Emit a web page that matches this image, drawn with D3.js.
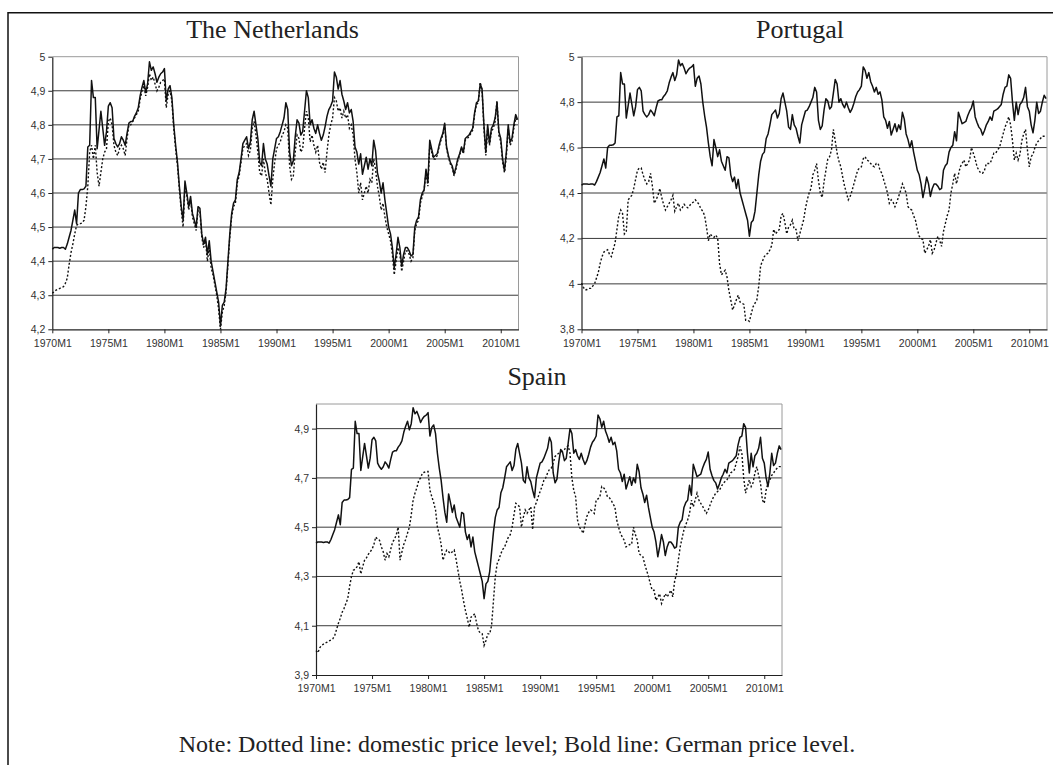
<!DOCTYPE html>
<html>
<head>
<meta charset="utf-8">
<script src="https://cdn.jsdelivr.net/npm/d3@7"></script>
<style>
  body { margin: 0; background: #fff; }
  svg { display: block; }
</style>
</head>
<body>
<svg id="chart" width="1053" height="765"></svg>
<script>
// bimonthly readings (one value every 2 months, starting 1970M1)
const monthsPerSample = 2;

const german = [
  4.435, 4.44, 4.44, 4.44, 4.438, 4.44,
  4.44, 4.435, 4.45, 4.47, 4.49, 4.52,
  4.55, 4.51, 4.60, 4.61, 4.61, 4.612,
  4.62, 4.735, 4.74, 4.93, 4.88, 4.88,
  4.73, 4.785, 4.84, 4.79, 4.74, 4.78,
  4.855, 4.865, 4.85, 4.76, 4.745, 4.735,
  4.745, 4.765, 4.755, 4.74, 4.775, 4.805,
  4.81, 4.81, 4.825, 4.835, 4.85, 4.885,
  4.91, 4.93, 4.895, 4.92, 4.985, 4.96,
  4.97, 4.95, 4.925, 4.94, 4.95, 4.955,
  4.965, 4.87, 4.905, 4.915, 4.88, 4.80,
  4.74, 4.69, 4.62, 4.56, 4.52, 4.635,
  4.60, 4.56, 4.59, 4.54, 4.52, 4.50,
  4.56, 4.555, 4.48, 4.45, 4.47, 4.42,
  4.46, 4.40, 4.37, 4.34, 4.31, 4.28,
  4.21, 4.27, 4.28, 4.32, 4.40, 4.48,
  4.54, 4.57, 4.58, 4.64, 4.66, 4.70,
  4.745, 4.755, 4.765, 4.73, 4.75, 4.815,
  4.84, 4.80, 4.76, 4.69, 4.68, 4.745,
  4.70, 4.685, 4.65, 4.62, 4.70, 4.73,
  4.76, 4.765, 4.78, 4.80, 4.82, 4.865,
  4.845, 4.72, 4.68, 4.695, 4.765, 4.815,
  4.805, 4.77, 4.78, 4.84, 4.90, 4.88,
  4.80, 4.815, 4.79, 4.775, 4.80, 4.775,
  4.755, 4.77, 4.795, 4.825, 4.845, 4.855,
  4.87, 4.955, 4.94, 4.905, 4.93, 4.89,
  4.87, 4.845, 4.865, 4.835, 4.845, 4.81,
  4.735, 4.72, 4.685, 4.715, 4.655, 4.68,
  4.705, 4.67, 4.70, 4.68, 4.755, 4.725,
  4.66, 4.635, 4.60, 4.63, 4.58, 4.54,
  4.50, 4.48, 4.44, 4.38, 4.42, 4.47,
  4.44, 4.385, 4.42, 4.44, 4.44, 4.43,
  4.415, 4.42, 4.50, 4.52, 4.53, 4.58,
  4.60, 4.61, 4.67, 4.63, 4.755, 4.73,
  4.705, 4.71, 4.715, 4.74, 4.76, 4.775,
  4.805, 4.735, 4.71, 4.69, 4.68, 4.655,
  4.675, 4.70, 4.715, 4.735, 4.72, 4.76,
  4.765, 4.77, 4.78, 4.79, 4.835, 4.865,
  4.87, 4.92, 4.905, 4.80, 4.72, 4.80,
  4.745, 4.79, 4.80, 4.82, 4.865, 4.78,
  4.76, 4.70, 4.665, 4.72, 4.80, 4.75,
  4.76, 4.80, 4.83, 4.815
];

const nlDomestic = [
  4.306, 4.31, 4.315, 4.318, 4.32, 4.323,
  4.325, 4.335, 4.35, 4.39, 4.425, 4.45,
  4.48, 4.505, 4.51, 4.51, 4.512, 4.52,
  4.56, 4.62, 4.72, 4.74, 4.70, 4.74,
  4.66, 4.62, 4.66, 4.70, 4.72, 4.73,
  4.81, 4.82, 4.80, 4.74, 4.72, 4.71,
  4.73, 4.74, 4.73, 4.71, 4.76, 4.80,
  4.80, 4.81, 4.82, 4.83, 4.84, 4.875,
  4.90, 4.915, 4.885, 4.91, 4.95, 4.93,
  4.94, 4.92, 4.90, 4.91, 4.925, 4.93,
  4.935, 4.85, 4.89, 4.90, 4.87, 4.79,
  4.73, 4.68, 4.61, 4.55, 4.50, 4.62,
  4.59, 4.55, 4.58, 4.53, 4.51, 4.49,
  4.55, 4.545, 4.47, 4.44, 4.46, 4.40,
  4.44, 4.38, 4.36, 4.33, 4.30, 4.26,
  4.20, 4.25, 4.27, 4.31, 4.39, 4.47,
  4.53, 4.56, 4.57, 4.63, 4.65, 4.69,
  4.73, 4.74, 4.745, 4.71, 4.725, 4.79,
  4.81, 4.77, 4.72, 4.66, 4.65, 4.70,
  4.66, 4.64, 4.60, 4.565, 4.64, 4.69,
  4.73, 4.74, 4.75, 4.77, 4.78, 4.80,
  4.79, 4.68, 4.64, 4.65, 4.72, 4.77,
  4.76, 4.72, 4.73, 4.79, 4.84, 4.82,
  4.75, 4.77, 4.74, 4.72, 4.74, 4.69,
  4.67, 4.69, 4.66, 4.72, 4.77, 4.80,
  4.82, 4.88, 4.87, 4.84, 4.85, 4.82,
  4.84, 4.82, 4.83, 4.79, 4.80, 4.77,
  4.70, 4.66, 4.60, 4.63, 4.58, 4.60,
  4.62, 4.60, 4.64, 4.63, 4.70, 4.67,
  4.62, 4.59, 4.55, 4.57, 4.53, 4.50,
  4.48, 4.46, 4.42, 4.36, 4.40, 4.44,
  4.42, 4.37, 4.40, 4.43, 4.43, 4.42,
  4.40, 4.41, 4.49, 4.51, 4.52, 4.57,
  4.59, 4.61, 4.66, 4.62, 4.74, 4.72,
  4.70, 4.70, 4.71, 4.735, 4.755, 4.77,
  4.80, 4.73, 4.705, 4.685, 4.675, 4.65,
  4.67, 4.695, 4.71, 4.73, 4.715, 4.755,
  4.76, 4.765, 4.775, 4.785, 4.83, 4.86,
  4.865, 4.925, 4.90, 4.79, 4.71, 4.79,
  4.74, 4.78, 4.79, 4.81, 4.87, 4.77,
  4.75, 4.69, 4.66, 4.71, 4.79, 4.74,
  4.75, 4.79, 4.82, 4.81
];

const ptDomestic = [
  4.003, 3.985, 3.973, 3.975, 3.98, 3.98,
  3.99, 4.0, 4.025, 4.05, 4.09, 4.12,
  4.14, 4.145, 4.15, 4.13, 4.12, 4.15,
  4.18, 4.24, 4.30, 4.325, 4.31, 4.22,
  4.23, 4.37, 4.38, 4.39, 4.42, 4.46,
  4.50, 4.51, 4.51, 4.48, 4.457, 4.44,
  4.45, 4.487, 4.43, 4.355, 4.37, 4.39,
  4.42, 4.38, 4.35, 4.325, 4.34, 4.355,
  4.37, 4.39, 4.32, 4.34, 4.355, 4.325,
  4.335, 4.35, 4.34, 4.335, 4.345, 4.355,
  4.36, 4.37, 4.36, 4.35, 4.33, 4.32,
  4.30, 4.25, 4.19, 4.22, 4.21, 4.205,
  4.215, 4.20, 4.09, 4.04, 4.05, 4.06,
  4.03, 3.97, 3.93, 3.885, 3.907, 3.93,
  3.95, 3.92, 3.915, 3.91, 3.84, 3.84,
  3.835, 3.87, 3.90, 3.915, 3.93, 3.99,
  4.08, 4.10, 4.12, 4.13, 4.135, 4.15,
  4.17, 4.24, 4.22, 4.23, 4.24, 4.30,
  4.31, 4.27, 4.22, 4.25, 4.26, 4.28,
  4.24, 4.24, 4.19, 4.22, 4.25, 4.28,
  4.33, 4.37, 4.40, 4.42, 4.48, 4.50,
  4.53, 4.455, 4.40, 4.38, 4.45, 4.50,
  4.55, 4.56, 4.59, 4.68, 4.63, 4.575,
  4.54, 4.515, 4.47, 4.43, 4.40, 4.37,
  4.385, 4.41, 4.44, 4.47, 4.50, 4.51,
  4.515, 4.55, 4.56, 4.545, 4.54, 4.53,
  4.52, 4.515, 4.53, 4.53, 4.50, 4.487,
  4.457, 4.43, 4.40, 4.355, 4.37, 4.36,
  4.34, 4.36, 4.385, 4.41, 4.44, 4.42,
  4.40, 4.34, 4.33, 4.325, 4.30, 4.28,
  4.24, 4.21, 4.20, 4.195, 4.135, 4.15,
  4.165, 4.195, 4.135, 4.15, 4.18, 4.21,
  4.19, 4.165, 4.23, 4.265, 4.30, 4.325,
  4.40, 4.44, 4.487, 4.44, 4.48, 4.515,
  4.53, 4.545, 4.515, 4.53, 4.545, 4.60,
  4.575, 4.55, 4.515, 4.50, 4.487, 4.487,
  4.50, 4.53, 4.53, 4.53, 4.55, 4.575,
  4.575, 4.59, 4.60, 4.63, 4.66, 4.69,
  4.71, 4.735, 4.70, 4.63, 4.545, 4.575,
  4.545, 4.57, 4.63, 4.66, 4.68, 4.59,
  4.515, 4.56, 4.57, 4.60, 4.62, 4.63,
  4.64, 4.65, 4.65, 4.65
];

const esDomestic = [
  3.999, 3.99, 4.01, 4.02, 4.025, 4.03,
  4.033, 4.038, 4.042, 4.047, 4.06, 4.085,
  4.11, 4.13, 4.155, 4.17, 4.19, 4.21,
  4.26, 4.30, 4.325, 4.33, 4.34, 4.36,
  4.31, 4.34, 4.366, 4.375, 4.39, 4.40,
  4.41, 4.43, 4.46, 4.45, 4.447, 4.42,
  4.40, 4.366, 4.393, 4.38, 4.41, 4.44,
  4.45, 4.47, 4.50, 4.366, 4.40, 4.43,
  4.45, 4.476, 4.50, 4.55, 4.61, 4.638,
  4.66, 4.69, 4.70, 4.72, 4.723, 4.726,
  4.726, 4.65, 4.624, 4.60, 4.57, 4.50,
  4.47, 4.43, 4.366, 4.39, 4.407, 4.40,
  4.393, 4.40, 4.407, 4.37, 4.325, 4.28,
  4.244, 4.20, 4.162, 4.13, 4.094, 4.135,
  4.14, 4.149, 4.11, 4.08, 4.07, 4.067,
  4.02, 4.04, 4.067, 4.067, 4.10, 4.20,
  4.30, 4.352, 4.37, 4.393, 4.41, 4.42,
  4.44, 4.46, 4.47, 4.50, 4.55, 4.597,
  4.59, 4.583, 4.50, 4.54, 4.57, 4.556,
  4.57, 4.583, 4.49, 4.583, 4.60, 4.624,
  4.645, 4.665, 4.69, 4.70, 4.72, 4.735,
  4.74, 4.76, 4.787, 4.795, 4.80, 4.805,
  4.81, 4.815, 4.825, 4.83, 4.80, 4.70,
  4.65, 4.624, 4.53, 4.50, 4.49, 4.475,
  4.51, 4.543, 4.56, 4.57, 4.565, 4.556,
  4.61, 4.615, 4.624, 4.665, 4.66, 4.65,
  4.624, 4.62, 4.61, 4.595, 4.583, 4.53,
  4.50, 4.475, 4.46, 4.447, 4.42, 4.425,
  4.43, 4.43, 4.50, 4.47, 4.447, 4.393,
  4.385, 4.38, 4.35, 4.325, 4.30, 4.27,
  4.244, 4.244, 4.203, 4.215, 4.23, 4.19,
  4.21, 4.23, 4.217, 4.23, 4.244, 4.217,
  4.28, 4.31, 4.366, 4.42, 4.455, 4.49,
  4.51, 4.53, 4.556, 4.61, 4.583, 4.61,
  4.638, 4.61, 4.597, 4.585, 4.57, 4.556,
  4.57, 4.59, 4.61, 4.625, 4.638, 4.645,
  4.65, 4.665, 4.678, 4.685, 4.692, 4.705,
  4.72, 4.726, 4.733, 4.76, 4.787, 4.828,
  4.80, 4.70, 4.638, 4.665, 4.692, 4.665,
  4.68, 4.72, 4.746, 4.71, 4.678, 4.61,
  4.597, 4.65, 4.678, 4.692, 4.71, 4.72,
  4.733, 4.74, 4.746, 4.746
];

const tickYears = [1970, 1975, 1980, 1985, 1990, 1995, 2000, 2005, 2010];
const nlTicks = [4.2, 4.3, 4.4, 4.5, 4.6, 4.7, 4.8, 4.9, 5.0];
const ptTicks = [3.8, 4.0, 4.2, 4.4, 4.6, 4.8, 5.0];
const esTicks = [3.9, 4.1, 4.3, 4.5, 4.7, 4.9];

const svg = d3.select("#chart");
const fmt = d3.formatLocale({ decimal: ",", thousands: ".", grouping: [3], currency: ["", ""] }).format(".2~f");
const lastMonth = 499;

const panels = [
  { title: "The Netherlands", domestic: nlDomestic, ticks: nlTicks, domain: [4.2, 5.0],
    left: 52.3, right: 518.5, top: 56.7, bottom: 329.3, titleX: 272.5, titleY: 38 },
  { title: "Portugal", domestic: ptDomestic, ticks: ptTicks, domain: [3.8, 5.0],
    left: 581.5, right: 1047, top: 56.7, bottom: 329.3, titleX: 800, titleY: 38 },
  { title: "Spain", domestic: esDomestic, ticks: esTicks, domain: [3.9, 5.0],
    left: 316, right: 782, top: 404, bottom: 675, titleX: 537, titleY: 385 }
];

// outer frame (left and top edges only are in view)
svg.append("path")
  .attr("d", "M8,765 V12.7 H1053")
  .attr("fill", "none")
  .attr("stroke", "#111")
  .attr("stroke-width", 1.5);

panels.forEach(function (p) {
  const x = d3.scaleLinear().domain([0, lastMonth]).range([p.left, p.right]);
  const y = d3.scaleLinear().domain(p.domain).range([p.bottom, p.top]);
  const g = svg.append("g");

  // horizontal gridlines
  g.selectAll("line.grid")
    .data(p.ticks.filter(d => d > p.domain[0] && d < p.domain[1]))
    .enter()
    .append("line")
    .attr("class", "grid")
    .attr("x1", p.left).attr("x2", p.right)
    .attr("y1", d => y(d)).attr("y2", d => y(d))
    .attr("stroke", "#3a3a3a")
    .attr("stroke-width", 1);

  // plot area border (top and right, grey)
  g.append("path")
    .attr("d", `M${p.left},${y(p.domain[1])} H${p.right} V${p.bottom}`)
    .attr("fill", "none")
    .attr("stroke", "#9a9a9a")
    .attr("stroke-width", 1);

  // y axis
  const yAxis = g.append("g")
    .attr("transform", `translate(${p.left},0)`)
    .call(d3.axisLeft(y).tickValues(p.ticks).tickFormat(fmt).tickSize(4).tickSizeOuter(0));
  yAxis.select(".domain").attr("stroke", "#222").attr("stroke-width", 1.2);
  yAxis.selectAll(".tick line").attr("stroke", "#222");
  yAxis.selectAll(".tick text")
    .attr("x", -7)
    .attr("fill", "#333")
    .style("font-family", "'Liberation Sans', Arial, sans-serif")
    .style("font-size", "10.5px");

  // x axis
  const xAxis = g.append("g")
    .attr("transform", `translate(0,${p.bottom})`)
    .call(d3.axisBottom(x)
      .tickValues(tickYears.map(yr => (yr - 1970) * 12))
      .tickFormat(m => (1970 + m / 12) + "M1")
      .tickSize(4).tickSizeOuter(0));
  xAxis.select(".domain").attr("stroke", "#222").attr("stroke-width", 1.2);
  xAxis.selectAll(".tick line").attr("stroke", "#222");
  xAxis.selectAll(".tick text")
    .attr("y", 10)
    .attr("fill", "#333")
    .style("font-family", "'Liberation Sans', Arial, sans-serif")
    .style("font-size", "10.5px");

  const line = d3.line()
    .x((d, i) => x(i * monthsPerSample))
    .y(d => y(d));

  // domestic price level: dotted
  g.append("path")
    .datum(p.domestic)
    .attr("d", line)
    .attr("fill", "none")
    .attr("stroke", "#111")
    .attr("stroke-width", 1.4)
    .attr("stroke-dasharray", "2,2");

  // German price level: bold
  g.append("path")
    .datum(german)
    .attr("d", line)
    .attr("fill", "none")
    .attr("stroke", "#111")
    .attr("stroke-width", 1.5)
    .attr("stroke-linejoin", "round");

  svg.append("text")
    .attr("x", p.titleX)
    .attr("y", p.titleY)
    .attr("text-anchor", "middle")
    .style("font-family", "'Liberation Serif', 'Times New Roman', serif")
    .style("font-size", "26px")
    .attr("fill", "#222")
    .text(p.title);
});

svg.append("text")
  .attr("x", 517)
  .attr("y", 752)
  .attr("text-anchor", "middle")
  .style("font-family", "'Liberation Serif', 'Times New Roman', serif")
  .style("font-size", "24px")
  .attr("fill", "#222")
  .text("Note: Dotted line: domestic price level; Bold line: German price level.");
</script>
</body>
</html>
